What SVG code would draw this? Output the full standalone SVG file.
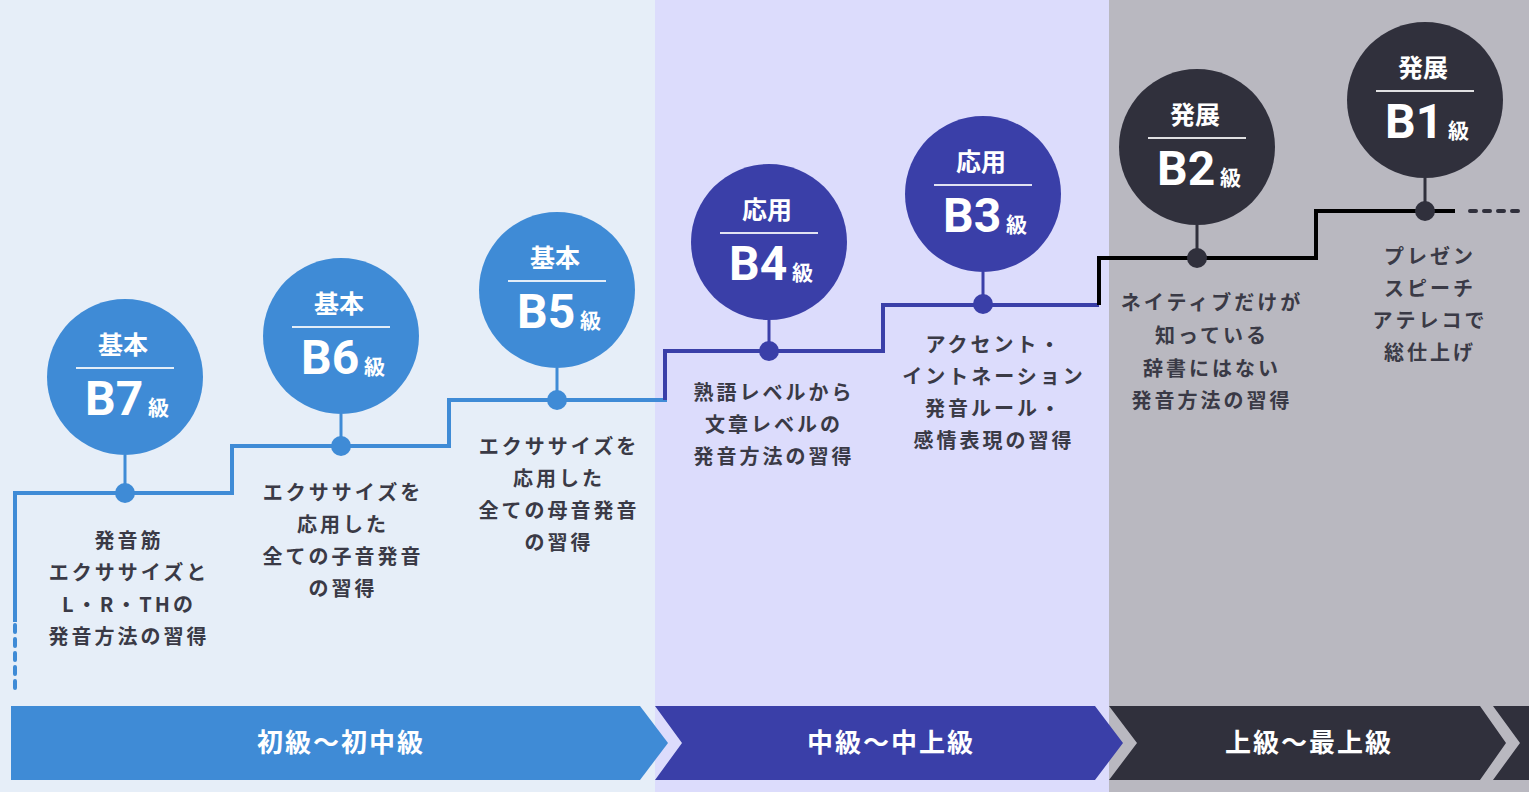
<svg xmlns="http://www.w3.org/2000/svg" width="1529" height="792" viewBox="0 0 1529 792">
<style>
.t{font-family:"Noto Sans CJK JP","Noto Sans",sans-serif;font-weight:700}
.desc{font-size:20px;fill:#3a3a46;text-anchor:middle;letter-spacing:3px}
.head{font-size:25px;fill:#fff;text-anchor:middle}
.big{font-family:Roboto,"Noto Sans",sans-serif;font-weight:700;font-size:48px;fill:#fff}
.kyu{font-size:21px;fill:#fff}
.band{font-size:26px;fill:#fff;text-anchor:middle;letter-spacing:2px}
.div{stroke:#fff;stroke-width:2;opacity:.85}
</style>
<rect x="0" y="0" width="655" height="792" fill="#e6eef8"/>
<rect x="655" y="0" width="454" height="792" fill="#dcdcfc"/>
<rect x="1109" y="0" width="420" height="792" fill="#b9b8c0"/>
<g id="bands">
<polygon points="11,706 640,706 668,743 640,780 11,780" fill="#3f8bd6"/>
<polygon points="655,706 1095,706 1123,743 1095,780 655,780 682,743" fill="#3a3fa8"/>
<polygon points="1109,706 1480,706 1506,743 1480,780 1109,780 1137,743" fill="#30303c"/>
<polygon points="1493,706 1529,706 1529,780 1493,780 1520,743" fill="#30303c"/>
<text class="t band" x="341" y="752">初級〜初中級</text>
<text class="t band" x="891" y="752">中級〜中上級</text>
<text class="t band" x="1309" y="752">上級〜最上級</text>
</g>
<g id="connectors" fill="none">
<path d="M15,688 V622" stroke="#3f8bd6" stroke-width="4" stroke-dasharray="7 7" stroke-linecap="round"/>
<path d="M15,622 V493 H232 V446 H449 V400 H667" stroke="#3f8bd6" stroke-width="4"/>
<path d="M665,400 V351 H883 V305 H1099" stroke="#3a3fa8" stroke-width="4"/>
<path d="M1099,305 V258 H1316 V211 H1455" stroke="#000" stroke-width="4"/>
<path d="M1470,211 H1520" stroke="#30303c" stroke-width="4" stroke-dasharray="6 8" stroke-linecap="round"/>
<path d="M125,455 V493 M341,414 V446 M557,368 V400" stroke="#3f8bd6" stroke-width="3"/>
<path d="M769,320 V351 M983,272 V305" stroke="#3a3fa8" stroke-width="3"/>
<path d="M1197,225 V258 M1425,178 V211" stroke="#30303c" stroke-width="3"/>
</g>
<g id="b7">
<circle cx="125" cy="377" r="78" fill="#3f8bd6"/>
<circle cx="125" cy="493" r="10" fill="#3f8bd6"/>
<text class="t head" x="123" y="354">基本</text>
<line class="div" x1="76" y1="368" x2="174" y2="368"/>
<text class="big" x="85" y="415">B7</text><text class="t kyu" x="148" y="415">級</text>
<text class="t desc" x="129" y="548">発音筋</text>
<text class="t desc" x="129" y="580">エクササイズと</text>
<text class="t desc" x="129" y="612">L・R・THの</text>
<text class="t desc" x="129" y="644">発音方法の習得</text>
</g>
<g id="b6">
<circle cx="341" cy="336" r="78" fill="#3f8bd6"/>
<circle cx="341" cy="446" r="10" fill="#3f8bd6"/>
<text class="t head" x="339" y="313">基本</text>
<line class="div" x1="292" y1="327" x2="390" y2="327"/>
<text class="big" x="301" y="374">B6</text><text class="t kyu" x="364" y="374">級</text>
<text class="t desc" x="343" y="500">エクササイズを</text>
<text class="t desc" x="343" y="532">応用した</text>
<text class="t desc" x="343" y="564">全ての子音発音</text>
<text class="t desc" x="343" y="596">の習得</text>
</g>
<g id="b5">
<circle cx="557" cy="290" r="78" fill="#3f8bd6"/>
<circle cx="557" cy="400" r="10" fill="#3f8bd6"/>
<text class="t head" x="555" y="267">基本</text>
<line class="div" x1="508" y1="281" x2="606" y2="281"/>
<text class="big" x="517" y="328">B5</text><text class="t kyu" x="580" y="328">級</text>
<text class="t desc" x="559" y="454">エクササイズを</text>
<text class="t desc" x="559" y="486">応用した</text>
<text class="t desc" x="559" y="518">全ての母音発音</text>
<text class="t desc" x="559" y="550">の習得</text>
</g>
<g id="b4">
<circle cx="769" cy="242" r="78" fill="#3a3fa8"/>
<circle cx="769" cy="351" r="10" fill="#3a3fa8"/>
<text class="t head" x="767" y="219">応用</text>
<line class="div" x1="720" y1="233" x2="818" y2="233"/>
<text class="big" x="729" y="280">B4</text><text class="t kyu" x="792" y="280">級</text>
<text class="t desc" x="774" y="400">熟語レベルから</text>
<text class="t desc" x="774" y="432">文章レベルの</text>
<text class="t desc" x="774" y="464">発音方法の習得</text>
</g>
<g id="b3">
<circle cx="983" cy="194" r="78" fill="#3a3fa8"/>
<circle cx="983" cy="304" r="10" fill="#3a3fa8"/>
<text class="t head" x="981" y="171">応用</text>
<line class="div" x1="934" y1="185" x2="1032" y2="185"/>
<text class="big" x="943" y="232">B3</text><text class="t kyu" x="1006" y="232">級</text>
<text class="t desc" x="994" y="352">アクセント・</text>
<text class="t desc" x="994" y="384">イントネーション</text>
<text class="t desc" x="994" y="416">発音ルール・</text>
<text class="t desc" x="994" y="448">感情表現の習得</text>
</g>
<g id="b2">
<circle cx="1197" cy="147" r="78" fill="#30303c"/>
<circle cx="1197" cy="258" r="10" fill="#30303c"/>
<text class="t head" x="1195" y="124">発展</text>
<line class="div" x1="1148" y1="138" x2="1246" y2="138"/>
<text class="big" x="1157" y="185">B2</text><text class="t kyu" x="1220" y="185">級</text>
<text class="t desc" x="1212" y="310">ネイティブだけが</text>
<text class="t desc" x="1212" y="343">知っている</text>
<text class="t desc" x="1212" y="376">辞書にはない</text>
<text class="t desc" x="1212" y="408">発音方法の習得</text>
</g>
<g id="b1">
<circle cx="1425" cy="100" r="78" fill="#30303c"/>
<circle cx="1425" cy="211" r="10" fill="#30303c"/>
<text class="t head" x="1423" y="77">発展</text>
<line class="div" x1="1376" y1="91" x2="1474" y2="91"/>
<text class="big" x="1385" y="138">B1</text><text class="t kyu" x="1448" y="138">級</text>
<text class="t desc" x="1430" y="264">プレゼン</text>
<text class="t desc" x="1430" y="296">スピーチ</text>
<text class="t desc" x="1430" y="328">アテレコで</text>
<text class="t desc" x="1430" y="360">総仕上げ</text>
</g>
</svg>
